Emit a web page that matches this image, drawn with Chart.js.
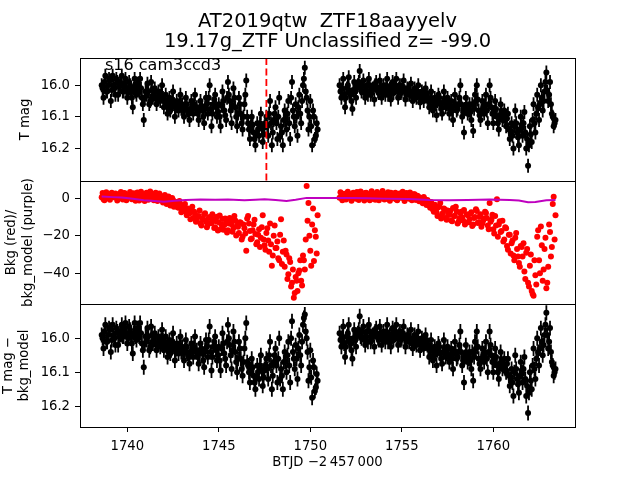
<!DOCTYPE html>
<html>
<head>
<meta charset="utf-8">
<script src="https://cdn.jsdelivr.net/npm/chart.js@4.4.1/dist/chart.umd.min.js"></script>
<style>
html, body { margin: 0; padding: 0; background: #fff; }
#wrap { position: relative; width: 640px; height: 480px; overflow: hidden; font-family: "DejaVu Sans", sans-serif; }
#wrap canvas { position: absolute; left: 0; top: 0; }
#title { position: absolute; left: 0; top: 10.5px; width: 655px; text-align: center; font-size: 19.5px; line-height: 20.5px; white-space: pre; color: #000; }
#note { position: absolute; left: 105px; top: 56.5px; font-size: 16px; line-height: 16px; white-space: pre; color: #000; }
</style>
</head>
<body>
<div id="wrap">
  <canvas id="c1" width="640" height="480"></canvas>
  <canvas id="c2" width="640" height="480"></canvas>
  <canvas id="c3" width="640" height="480"></canvas>
  <div id="title">AT2019qtw  ZTF18aayyelv
19.17g_ZTF Unclassified z= -99.0</div>
  <div id="note">s16 cam3ccd3</div>
</div>
<script>
// orbit 1 and orbit 2 timestamps (BTJD - 2457000), on the tenth of a day
const seg1Time = [
  1738.6,1738.7,1738.8,1738.9,1739.0,1739.1,1739.2,1739.3,1739.4,1739.5,
  1739.6,1739.7,1739.8,1739.9,1740.0,1740.1,1740.2,1740.3,1740.4,1740.5,
  1740.6,1740.7,1740.8,1740.9,1741.0,1741.1,1741.2,1741.3,1741.4,1741.5,
  1741.6,1741.7,1741.8,1741.9,1742.0,1742.1,1742.2,1742.3,1742.4,1742.5,
  1742.6,1742.7,1742.8,1742.9,1743.0,1743.1,1743.2,1743.3,1743.4,1743.5,
  1743.6,1743.7,1743.8,1743.9,1744.0,1744.1,1744.2,1744.3,1744.4,1744.5,
  1744.6,1744.7,1744.8,1744.9,1745.0,1745.1,1745.2,1745.3,1745.4,1745.5,
  1745.6,1745.7,1745.8,1745.9,1746.0,1746.1,1746.2,1746.3,1746.4,1746.5,
  1746.6,1746.7,1746.8,1746.9,1747.0,1747.1,1747.2,1747.3,1747.4,1747.5,
  1747.6,1747.7,1747.8,1747.9,1748.0,1748.1,1748.2,1748.3,1748.4,1748.5,
  1748.6,1748.7,1748.8,1748.9,1749.0,1749.1,1749.2,1749.3,1749.4,1749.5,
  1749.6,1749.7,1749.8,1749.9,1750.0,1750.1,1750.2,1750.3,1750.4
];
const seg2Time = [
  1751.6,1751.7,1751.8,1751.9,1752.0,1752.1,1752.2,1752.3,1752.4,1752.5,
  1752.6,1752.7,1752.8,1752.9,1753.0,1753.1,1753.2,1753.3,1753.4,1753.5,
  1753.6,1753.7,1753.8,1753.9,1754.0,1754.1,1754.2,1754.3,1754.4,1754.5,
  1754.6,1754.7,1754.8,1754.9,1755.0,1755.1,1755.2,1755.3,1755.4,1755.5,
  1755.6,1755.7,1755.8,1755.9,1756.0,1756.1,1756.2,1756.3,1756.4,1756.5,
  1756.6,1756.7,1756.8,1756.9,1757.0,1757.1,1757.2,1757.3,1757.4,1757.5,
  1757.6,1757.7,1757.8,1757.9,1758.0,1758.1,1758.2,1758.3,1758.4,1758.5,
  1758.6,1758.7,1758.8,1758.9,1759.0,1759.1,1759.2,1759.3,1759.4,1759.5,
  1759.6,1759.7,1759.8,1759.9,1760.0,1760.1,1760.2,1760.3,1760.4,1760.5,
  1760.6,1760.7,1760.8,1760.9,1761.0,1761.1,1761.2,1761.3,1761.4,1761.5,
  1761.6,1761.7,1761.8,1761.9,1762.0,1762.1,1762.2,1762.3,1762.4,1762.5,
  1762.6,1762.7,1762.8,1762.9,1763.0,1763.1,1763.2,1763.3,1763.4
];
// the cadences in between
const seg1TimeB = [
  1738.65,1738.75,1738.85,1738.95,1739.05,1739.15,1739.25,1739.35,1739.45,1739.55,
  1739.65,1739.75,1739.85,1739.95,1740.05,1740.15,1740.25,1740.35,1740.45,1740.55,
  1740.65,1740.75,1740.85,1740.95,1741.05,1741.15,1741.25,1741.35,1741.45,1741.55,
  1741.65,1741.75,1741.85,1741.95,1742.05,1742.15,1742.25,1742.35,1742.45,1742.55,
  1742.65,1742.75,1742.85,1742.95,1743.05,1743.15,1743.25,1743.35,1743.45,1743.55,
  1743.65,1743.75,1743.85,1743.95,1744.05,1744.15,1744.25,1744.35,1744.45,1744.55,
  1744.65,1744.75,1744.85,1744.95,1745.05,1745.15,1745.25,1745.35,1745.45,1745.55,
  1745.65,1745.75,1745.85,1745.95,1746.05,1746.15,1746.25,1746.35,1746.45,1746.55,
  1746.65,1746.75,1746.85,1746.95,1747.05,1747.15,1747.25,1747.35,1747.45,1747.55,
  1747.65,1747.75,1747.85,1747.95,1748.05,1748.15,1748.25,1748.35,1748.45,1748.55,
  1748.65,1748.75,1748.85,1748.95,1749.05,1749.15,1749.25,1749.35,1749.45,1749.55,
  1749.65,1749.75,1749.85,1749.95,1750.05,1750.15,1750.25,1750.35
];
const seg2TimeB = [
  1751.65,1751.75,1751.85,1751.95,1752.05,1752.15,1752.25,1752.35,1752.45,1752.55,
  1752.65,1752.75,1752.85,1752.95,1753.05,1753.15,1753.25,1753.35,1753.45,1753.55,
  1753.65,1753.75,1753.85,1753.95,1754.05,1754.15,1754.25,1754.35,1754.45,1754.55,
  1754.65,1754.75,1754.85,1754.95,1755.05,1755.15,1755.25,1755.35,1755.45,1755.55,
  1755.65,1755.75,1755.85,1755.95,1756.05,1756.15,1756.25,1756.35,1756.45,1756.55,
  1756.65,1756.75,1756.85,1756.95,1757.05,1757.15,1757.25,1757.35,1757.45,1757.55,
  1757.65,1757.75,1757.85,1757.95,1758.05,1758.15,1758.25,1758.35,1758.45,1758.55,
  1758.65,1758.75,1758.85,1758.95,1759.05,1759.15,1759.25,1759.35,1759.45,1759.55,
  1759.65,1759.75,1759.85,1759.95,1760.05,1760.15,1760.25,1760.35,1760.45,1760.55,
  1760.65,1760.75,1760.85,1760.95,1761.05,1761.15,1761.25,1761.35,1761.45,1761.55,
  1761.65,1761.75,1761.85,1761.95,1762.05,1762.15,1762.25,1762.35,1762.45,1762.55,
  1762.65,1762.75,1762.85,1762.95,1763.05,1763.15,1763.25,1763.35
];

// T mag
const tmag1 = [
  16.00,16.04,15.97,16.02,15.98,16.05,15.97,16.01,15.98,16.03,
  15.99,15.97,16.02,15.98,16.04,15.99,16.02,16.07,15.98,16.03,
  16.00,15.98,16.04,16.11,16.02,15.995,16.06,15.99,16.04,16.01,
  16.06,16.02,16.05,16.00,16.07,16.03,16.09,16.04,16.07,16.02,
  16.10,16.05,16.08,16.03,16.06,16.10,16.04,16.08,16.11,16.05,
  16.09,16.03,16.07,16.11,16.05,16.08,16.12,16.04,16.09,16.00,
  16.13,16.06,16.03,16.10,16.06,16.13,16.02,16.08,16.11,15.99,
  16.05,16.12,16.01,16.07,16.13,16.04,16.09,16.14,16.06,15.985,
  16.12,16.17,16.10,16.15,16.19,16.12,16.16,16.09,16.18,16.13,
  16.10,16.16,16.05,16.19,16.11,16.07,16.17,16.04,16.13,16.19,
  16.08,16.14,16.05,16.17,15.99,16.10,16.06,16.16,16.03,16.12,
  16.00,15.945,16.04,16.14,16.05,16.19,16.10,16.16,16.14
];
const tmag2 = [
  16.00,16.04,15.98,16.07,16.01,15.975,16.03,16.075,15.99,16.04,
  16.00,15.955,16.02,15.985,16.04,16.00,15.98,16.03,16.01,16.045,
  15.99,16.02,15.985,16.04,16.00,16.03,15.98,16.02,16.045,15.99,
  16.01,15.98,16.04,16.00,16.02,15.985,16.045,16.01,16.03,15.995,
  16.05,16.01,16.04,16.00,16.055,16.02,16.05,16.01,16.04,16.07,
  16.02,16.08,16.04,16.095,16.03,16.06,16.09,16.02,16.07,16.04,
  16.09,16.05,16.11,16.03,16.08,16.06,16.00,16.10,16.15,16.04,
  16.09,16.06,16.11,16.145,16.03,16.00,16.08,16.11,16.05,16.09,
  16.03,16.12,16.00,16.07,16.12,16.05,16.10,16.14,16.06,16.11,
  16.08,16.13,16.09,16.17,16.12,16.20,16.08,16.15,16.19,16.10,
  16.16,16.085,16.20,16.255,16.13,16.18,16.06,16.15,16.03,16.11,
  16.00,16.08,16.02,15.96,16.05,15.99,16.09,16.13,16.11
];
const tmag1B = [
  16.01,15.99,16.02,16.00,15.985,16.015,16.00,16.03,15.99,16.005,
  16.00,16.02,15.995,16.01,16.025,16.00,16.04,16.01,16.02,15.995,
  16.02,16.01,16.06,16.04,16.03,16.02,16.05,16.015,16.03,16.04,
  16.04,16.035,16.03,16.04,16.05,16.06,16.055,16.08,16.045,16.06,
  16.07,16.065,16.055,16.075,16.08,16.07,16.06,16.09,16.075,16.065,
  16.06,16.075,16.09,16.08,16.065,16.10,16.07,16.06,16.04,16.075,
  16.09,16.045,16.07,16.085,16.10,16.065,16.05,16.095,16.04,16.03,
  16.08,16.065,16.04,16.10,16.09,16.06,16.12,16.10,16.03,16.10,
  16.14,16.13,16.125,16.17,16.155,16.14,16.12,16.135,16.155,16.12,
  16.13,16.09,16.12,16.15,16.09,16.12,16.10,16.16,16.15,16.11,
  16.11,16.09,16.12,16.04,16.08,16.13,16.10,16.07,16.09,16.05,
  15.98,16.02,16.08,16.10,16.13,16.08,16.17,16.12
];
const tmag2B = [
  16.02,16.01,16.03,16.04,16.00,16.025,16.05,16.015,16.02,16.005,
  15.99,16.01,16.00,16.025,16.015,16.03,16.00,16.02,16.01,16.00,
  16.01,16.025,16.005,16.02,16.015,16.00,16.03,16.01,16.015,16.025,
  16.00,16.02,16.01,16.025,16.005,16.02,16.03,16.015,16.02,16.035,
  16.025,16.03,16.02,16.035,16.04,16.03,16.035,16.025,16.05,16.045,
  16.05,16.065,16.06,16.05,16.04,16.075,16.055,16.045,16.06,16.065,
  16.07,16.08,16.065,16.06,16.075,16.04,16.06,16.085,16.075,16.065,
  16.08,16.085,16.06,16.075,16.05,16.045,16.095,16.08,16.07,16.06,
  16.08,16.06,16.04,16.09,16.085,16.075,16.12,16.095,16.085,16.10,
  16.11,16.105,16.14,16.15,16.16,16.13,16.12,16.165,16.14,16.13,
  16.12,16.15,16.17,16.19,16.155,16.11,16.12,16.09,16.07,16.06,
  16.04,16.05,15.99,16.02,16.03,16.06,16.10,16.12
];

// background flux (red)
const bkg1 = [
  0.5,-0.5,1.5,0.2,2.0,0.8,1.8,0.5,2.2,1.0,
  1.6,0.3,2.5,1.2,0.4,1.9,0.8,2.3,1.1,0.0,
  1.5,0.6,2.0,-0.5,1.2,2.6,0.4,1.7,0.9,2.2,
  0.2,1.4,-0.3,0.8,-0.8,0.6,-1.5,0.1,-2.5,-0.9,
  -3.5,-2.0,-5.0,-3.2,-6.5,-4.1,-7.2,-5.5,-8.0,-6.8,
  -10.5,-8.2,-12.0,-9.5,-13.5,-10.8,-8.5,-12.5,-14.0,-10.0,
  -13.2,-11.5,-15.5,-9.8,-12.8,-16.5,-11.0,-14.2,-12.0,-17.0,
  -10.5,-13.8,-15.8,-11.8,-14.5,-18.5,-13.0,-20.5,-16.0,-28.0,
  -9.5,-17.5,-21.5,-14.0,-19.0,-23.5,-16.5,-21.0,-9.0,-25.0,
  -18.5,-22.5,-13.5,-36.0,-20.0,-26.5,-23.0,-33.0,-11.2,-28.5,
  -36.5,-30.0,-40.5,-34.0,-45.0,-53.0,-42.0,-49.5,-38.5,-44.0,
  -30.5,-38.0,6.5,-2.5,-28.0,-14.0,-33.5,-20.5,-9.0
];
const bkg2 = [
  0.3,1.5,-0.4,2.0,0.8,1.9,0.2,2.4,1.1,-0.2,
  1.6,0.5,2.2,1.0,2.8,0.4,1.7,-0.5,2.0,0.9,
  2.5,1.3,0.1,1.8,0.7,2.3,-0.3,1.4,2.9,0.6,
  1.9,-0.6,1.2,2.6,0.3,1.7,0.9,2.4,-0.2,1.5,
  0.6,2.1,-0.8,1.0,0.2,-1.8,0.7,-2.8,-0.9,-3.8,
  -2.0,-6.0,-3.5,-7.5,-4.8,-2.5,-8.5,-5.5,-10.5,-6.5,
  -8.8,-11.8,-5.2,-9.5,-7.0,-12.5,-8.0,-10.2,-6.2,-13.0,
  -9.0,-11.2,-7.5,-14.0,-10.0,-6.8,-12.8,-8.5,-13.5,-10.8,
  -7.8,-14.5,-2.5,-11.5,-16.5,-9.5,-0.5,-14.0,-18.0,-12.0,
  -22.0,-16.0,-27.5,-19.5,-24.0,-30.5,-21.0,-27.0,-34.5,-25.5,
  -31.0,-39.0,-29.0,-45.0,-36.0,-49.5,-52.0,-41.0,-20.5,-33.0,
  -15.0,-44.0,-27.0,-48.0,-36.5,-18.0,-26.0,0.8,-9.0
];
const bkg1B = [
  2.8,-1.0,3.2,1.0,-0.8,3.0,0.6,2.6,-1.2,1.9,
  3.4,-0.6,2.8,-1.0,1.5,3.3,-0.5,2.7,-1.3,3.1,
  -1.2,3.5,1.6,-1.5,2.9,-0.8,3.6,0.3,-1.0,3.0,
  -1.4,2.5,0.9,-2.2,1.8,-3.0,1.0,-3.8,0.2,-4.5,
  -2.2,-4.8,-1.5,-7.5,-5.2,-3.0,-9.0,-6.2,-11.2,-4.5,
  -7.2,-12.5,-9.8,-6.5,-14.5,-11.2,-8.0,-15.5,-10.5,-13.2,
  -8.5,-15.8,-12.2,-17.2,-9.2,-14.0,-16.8,-10.8,-18.2,-13.5,
  -11.5,-17.8,-9.5,-19.8,-15.2,-12.8,-22.0,-14.0,-18.8,-10.8,
  -13.5,-21.8,-17.0,-11.5,-24.5,-19.5,-26.0,-15.5,-22.0,-27.5,
  -16.0,-28.5,-24.5,-30.5,-14.5,-26.5,-32.0,-19.5,-35.0,-22.5,
  -28.0,-43.0,-32.0,-47.0,-38.0,-50.5,-44.0,-40.0,-33.0,-46.5,
  -33.0,-22.0,-12.0,-20.0,-36.0,-5.5,-17.0,-29.5
];
const bkg2B = [
  3.2,-1.0,2.4,-0.6,3.5,1.2,-1.3,2.9,0.4,3.3,
  -0.9,3.6,0.3,-1.2,3.0,2.1,-1.0,3.7,1.2,-0.8,
  3.4,-1.1,2.2,3.9,-0.6,1.5,3.2,-1.3,2.6,0.0,
  3.0,-1.0,2.4,0.4,3.5,-1.4,2.8,0.1,3.1,-1.1,
  2.2,-0.8,1.4,-1.6,0.2,-2.6,-0.4,-3.6,-1.8,-5.0,
  -3.8,-7.2,-5.5,-9.5,-4.2,-10.8,-7.8,-6.0,-11.5,-8.8,
  -6.8,-12.2,-9.5,-4.5,-13.5,-10.8,-7.2,-11.8,-14.0,-8.5,
  -12.8,-8.2,-14.8,-10.5,-5.8,-13.2,-9.8,-15.2,-11.8,-7.2,
  -10.5,-16.5,-12.5,-8.8,-18.8,-14.5,-20.5,-12.2,-17.5,-23.0,
  -15.5,-25.5,-19.5,-29.5,-22.5,-33.0,-18.5,-31.0,-36.5,-26.0,
  -24.0,-43.0,-27.0,-47.0,-30.0,-51.0,-33.0,-46.0,-17.0,-40.0,
  -25.0,-38.0,-21.0,-45.0,-14.0,-31.0,-3.0,-22.0
];
// background model (purple)
const modelTime = [
  1738.6,1739.2,1739.7,1740.3,1740.9,1741.5,1742.0,1742.6,1743.2,1744.0,
  1744.8,1745.5,1746.4,1747.0,1747.5,1748.1,1748.7,1749.2,1749.8,1750.4,
  1751.6,1752.3,1753.1,1754.0,1755.4,1756.5,1757.6,1758.6,1759.8,1760.9,
  1761.4,1761.9,1762.3,1762.9,1763.4
];
const modelBkg = [
  0.9,0.6,0.4,-0.3,-1.1,-1.5,-1.8,-1.3,-0.9,-0.7,
  -0.8,-0.7,-1.1,-0.8,-0.5,-0.9,-1.4,-0.8,0.2,0.2,
  0.2,0.1,0.0,-0.2,-0.4,-0.9,-1.1,-0.9,-0.7,-0.9,
  -1.2,-2.1,-2.0,-1.1,-0.9
];

// T mag - bkg_model
const corr1 = [
  15.99,16.03,15.96,16.01,15.97,16.04,15.96,16.00,15.97,16.02,
  15.98,15.96,15.995,15.955,16.015,15.965,15.995,16.045,15.955,16.005,
  15.975,15.955,16.015,16.085,15.995,15.97,16.035,15.965,16.015,15.985,
  16.035,15.995,16.025,15.975,16.035,15.995,16.055,16.005,16.035,15.985,
  16.065,16.015,16.045,15.995,16.025,16.065,16.005,16.045,16.075,16.015,
  16.055,15.995,16.035,16.075,16.015,16.045,16.085,16.005,16.055,15.965,
  16.095,16.025,15.995,16.065,16.025,16.095,15.985,16.045,16.08,15.96,
  16.02,16.09,15.98,16.04,16.10,16.01,16.06,16.11,16.03,15.955,
  16.08,16.13,16.06,16.11,16.15,16.08,16.12,16.05,16.14,16.09,
  16.06,16.12,16.01,16.15,16.07,16.03,16.13,16.00,16.09,16.15,
  16.04,16.10,16.01,16.13,15.95,16.06,16.02,16.12,15.99,16.08,
  15.96,15.93,16.00,16.125,16.035,16.175,16.085,16.145,16.125
];
const corr2 = [
  15.985,16.025,15.965,16.055,15.995,15.96,16.015,16.06,15.975,16.025,
  15.985,15.935,16.00,15.965,16.02,15.98,15.96,16.01,15.99,16.025,
  15.97,16.00,15.965,16.02,15.98,16.01,15.96,16.00,16.025,15.97,
  15.99,15.96,16.02,15.98,16.00,15.965,16.025,15.99,16.01,15.975,
  16.03,15.99,16.02,15.98,16.035,16.00,16.03,15.99,16.02,16.055,
  16.005,16.065,16.025,16.08,16.015,16.045,16.075,16.005,16.055,16.025,
  16.07,16.03,16.09,16.01,16.06,16.04,15.98,16.08,16.13,16.02,
  16.07,16.04,16.09,16.125,16.01,15.98,16.06,16.09,16.03,16.07,
  16.01,16.10,15.98,16.05,16.10,16.03,16.08,16.12,16.04,16.09,
  16.06,16.10,16.06,16.14,16.09,16.17,16.05,16.12,16.16,16.07,
  16.13,16.055,16.17,16.22,16.10,16.15,16.03,16.12,16.00,16.08,
  15.97,16.05,15.99,15.925,16.03,15.97,16.07,16.11,16.09
];
const corr1B = [
  16.00,15.98,16.01,15.99,15.975,16.005,15.99,16.02,15.98,15.995,
  15.99,15.995,15.97,15.985,16.00,15.975,16.015,15.985,15.995,15.97,
  15.995,15.985,16.035,16.015,16.005,15.995,16.025,15.99,16.005,16.015,
  16.015,16.01,16.005,16.005,16.015,16.025,16.02,16.045,16.01,16.025,
  16.035,16.03,16.02,16.04,16.045,16.035,16.025,16.055,16.04,16.03,
  16.025,16.04,16.055,16.045,16.03,16.065,16.035,16.025,16.005,16.04,
  16.055,16.01,16.035,16.05,16.065,16.03,16.015,16.06,16.01,16.00,
  16.05,16.035,16.01,16.07,16.06,16.03,16.09,16.07,16.00,16.07,
  16.10,16.09,16.085,16.13,16.115,16.10,16.08,16.095,16.115,16.08,
  16.09,16.05,16.08,16.11,16.05,16.08,16.06,16.12,16.11,16.07,
  16.07,16.05,16.08,16.00,16.04,16.09,16.06,16.03,16.05,16.01,
  15.94,15.98,16.04,16.085,16.115,16.065,16.155,16.105
];
const corr2B = [
  16.005,15.995,16.015,16.025,15.985,16.01,16.035,16.00,16.005,15.99,
  15.975,15.995,15.98,16.005,15.995,16.01,15.98,16.00,15.99,15.98,
  15.99,16.005,15.985,16.00,15.995,15.98,16.01,15.99,15.995,16.005,
  15.98,16.00,15.99,16.005,15.985,16.00,16.01,15.995,16.00,16.015,
  16.005,16.01,16.00,16.015,16.02,16.01,16.015,16.005,16.03,16.03,
  16.035,16.05,16.045,16.035,16.025,16.06,16.04,16.03,16.045,16.05,
  16.05,16.06,16.045,16.04,16.055,16.02,16.04,16.065,16.055,16.045,
  16.06,16.065,16.04,16.055,16.03,16.025,16.075,16.06,16.05,16.04,
  16.06,16.04,16.02,16.07,16.065,16.055,16.10,16.075,16.065,16.08,
  16.09,16.075,16.11,16.12,16.13,16.10,16.09,16.135,16.11,16.10,
  16.09,16.12,16.14,16.16,16.125,16.08,16.09,16.06,16.04,16.03,
  16.01,16.02,15.96,15.99,16.01,16.04,16.08,16.10
];

const magErr = 0.022;
const markTime = 1747.6;
const xRange = [1737.415, 1764.465];
const xTicks = [1740, 1745, 1750, 1755, 1760];
const magRange = [15.914, 16.303];
const bkgRange = [-56.4, 9.2];
const corrRange = [15.899, 16.261];
const magTicks = [16.0, 16.1, 16.2];
const bkgTicks = [0, -20, -40];

const times = seg1Time.concat(seg2Time, seg1TimeB, seg2TimeB);
function pts(a, b, c, d) {
  const ys = a.concat(b, c, d);
  return times.map((t, i) => ({x: t, y: ys[i]}));
}

Chart.defaults.font.family = '"DejaVu Sans", sans-serif';
Chart.defaults.color = '#000';

// box round every panel
const frame = {
  id: 'frame',
  afterDraw(chart) {
    const {ctx, chartArea: a} = chart;
    ctx.save();
    ctx.strokeStyle = '#000';
    ctx.lineWidth = 1;
    ctx.strokeRect(Math.round(a.left) + 0.5, Math.round(a.top) + 0.5,
      Math.round(a.right - a.left), Math.round(a.bottom - a.top));
    ctx.restore();
  }
};

// vertical error bars drawn under the dots
const errorBars = {
  id: 'errorBars',
  beforeDatasetsDraw(chart) {
    const {ctx, chartArea: a} = chart;
    const xs = chart.scales.x, ys = chart.scales.y;
    ctx.save();
    ctx.beginPath();
    ctx.rect(a.left, a.top, a.right - a.left, a.bottom - a.top);
    ctx.clip();
    ctx.strokeStyle = '#000';
    ctx.lineWidth = 1.8;
    ctx.beginPath();
    chart.data.datasets.forEach(ds => {
      if (!ds.err) return;
      ds.data.forEach(p => {
        const px = xs.getPixelForValue(p.x);
        ctx.moveTo(px, ys.getPixelForValue(p.y - ds.err));
        ctx.lineTo(px, ys.getPixelForValue(p.y + ds.err));
      });
    });
    ctx.stroke();
    ctx.restore();
  }
};

function yAxis(range, ticks, fmt, title, pad, reverse) {
  return {
    type: 'linear', min: range[0], max: range[1], reverse: reverse,
    afterBuildTicks: s => { s.ticks = ticks.map(v => ({value: v})); },
    afterFit: s => { s.width = 80; },
    grid: {drawOnChartArea: false, tickLength: 5, color: '#000', tickColor: '#000'},
    border: {display: false},
    ticks: {font: {size: 13.2}, padding: 5, callback: fmt, color: '#000'},
    title: {display: true, text: title, font: {size: 13.2, lineHeight: 1.265}, padding: {top: pad, bottom: 0}, color: '#000'}
  };
}
const magFmt = v => v.toFixed(1);
const bkgFmt = v => (v < 0 ? '\u2212' + Math.abs(v) : String(v));

const base = {
  responsive: false, animation: false, events: [], devicePixelRatio: 1,
  plugins: {legend: {display: false}, tooltip: {enabled: false}}
};

new Chart(document.getElementById('c1'), {
  type: 'scatter',
  data: {datasets: [
    {data: [{x: markTime, y: magRange[0]}, {x: markTime, y: magRange[1]}], showLine: true,
     borderColor: '#ff0000', borderWidth: 1.8, borderDash: [7, 3.5], pointRadius: 0, order: 0},
    {data: pts(tmag1, tmag2, tmag1B, tmag2B), err: magErr, pointRadius: 3, pointBackgroundColor: '#000',
     pointBorderWidth: 0, order: 1}
  ]},
  options: Object.assign({}, base, {
    layout: {padding: {left: 0, right: 65, top: 58, bottom: 299}},
    scales: {
      x: {type: 'linear', display: false, min: xRange[0], max: xRange[1]},
      y: yAxis(magRange, magTicks, magFmt, 'T mag', 17.6, true)
    }
  }),
  plugins: [errorBars, frame]
});

new Chart(document.getElementById('c2'), {
  type: 'scatter',
  data: {datasets: [
    {data: modelTime.map((t, i) => ({x: t, y: modelBkg[i]})), showLine: true,
     borderColor: '#bf00bf', borderWidth: 2, pointRadius: 0, order: 0},
    {data: pts(bkg1, bkg2, bkg1B, bkg2B), pointRadius: 3, pointBackgroundColor: '#ff0000',
     pointBorderWidth: 0, order: 1}
  ]},
  options: Object.assign({}, base, {
    layout: {padding: {left: 0, right: 65, top: 181, bottom: 176}},
    scales: {
      x: {type: 'linear', display: false, min: xRange[0], max: xRange[1]},
      y: yAxis(bkgRange, bkgTicks, bkgFmt, ['Bkg (red)/', 'bkg_model (purple)'], 3.4, false)
    }
  }),
  plugins: [frame]
});

new Chart(document.getElementById('c3'), {
  type: 'scatter',
  data: {datasets: [
    {data: pts(corr1, corr2, corr1B, corr2B), err: magErr, pointRadius: 3, pointBackgroundColor: '#000',
     pointBorderWidth: 0}
  ]},
  options: Object.assign({}, base, {
    layout: {padding: {left: 0, right: 65, top: 304, bottom: 0}},
    scales: {
      x: {
        type: 'linear', min: xRange[0], max: xRange[1],
        afterBuildTicks: s => { s.ticks = xTicks.map(v => ({value: v})); },
        afterFit: s => { s.height = 53; },
        grid: {drawOnChartArea: false, tickLength: 5, color: '#000', tickColor: '#000'},
        border: {display: false},
        ticks: {font: {size: 13.2}, padding: 7, maxRotation: 0, autoSkip: false, callback: v => String(v), color: '#000'},
        title: {display: true, text: 'BTJD \u22122\u2009457\u2009000', font: {size: 13.2, lineHeight: 1.265},
                padding: {top: 0, bottom: 8.6}, color: '#000'}
      },
      y: yAxis(corrRange, magTicks, magFmt, ['T mag \u2212', 'bkg_model'], 0, true)
    }
  }),
  plugins: [errorBars, frame]
});
</script>
</body>
</html>
